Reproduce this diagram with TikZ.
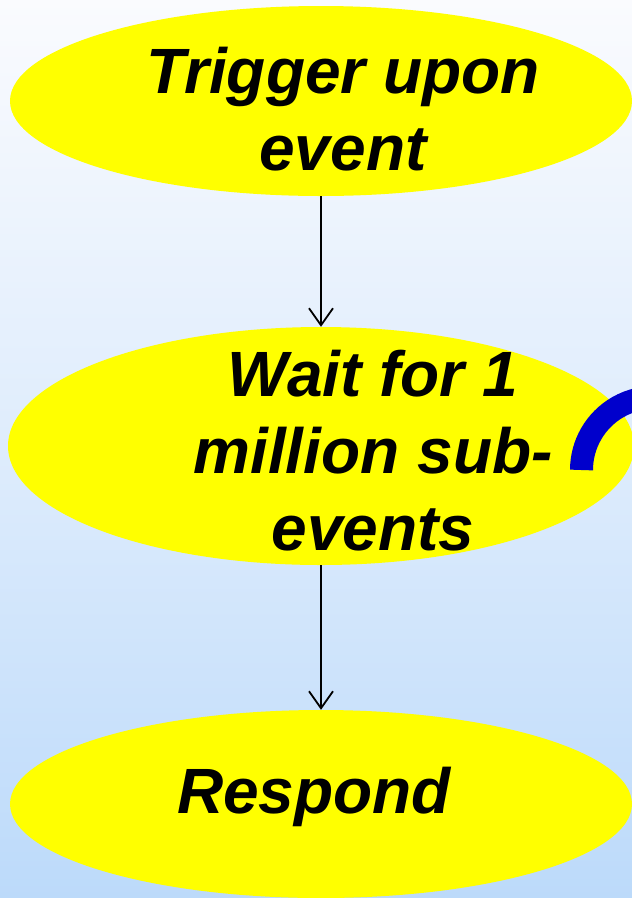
\documentclass[tikz,border=0pt]{standalone}
\usepackage{fontspec}
\setmainfont{Liberation Sans}
\usetikzlibrary{shapes.geometric,arrows.meta}
\definecolor{bgtop}{RGB}{250,251,254}
\definecolor{bgbot}{RGB}{188,218,250}
\definecolor{ovalyellow}{RGB}{255,255,0}
\definecolor{arcblue}{RGB}{0,0,204}
\tikzset{
  oval/.style={ellipse, fill=ovalyellow, draw=none, inner sep=0pt},
  label text/.style={align=center, inner sep=0pt, anchor=base,
    font=\fontsize{64}{77}\selectfont\bfseries\itshape},
  flow/.style={draw=black, line width=1.8pt, -{Straight Barb[length=17pt,width=24pt,line width=1.8pt]}},
}
\begin{document}
\begin{tikzpicture}[x=1pt,y=-1pt]
\useasboundingbox (0,0) rectangle (632,898);
\shade[top color=bgtop, bottom color=bgbot, middle color=bgtop!55!bgbot] (0,0) rectangle (632,898);
\begin{scope}
\clip (0,0) rectangle (632,898);
\node[oval, minimum width=622pt, minimum height=190pt] (e1) at (321,101) {};
\node[oval, minimum width=626pt, minimum height=238pt] (e2) at (321,446) {};
\node[oval, minimum width=622pt, minimum height=188pt] (e3) at (321,804) {};
\draw[arcblue, line width=23pt, line cap=butt] (581.5,470) arc[start angle=180, end angle=275, radius=72.5];
\end{scope}
\node[label text] (t1) at (343,170) {Trigger upon\\event};
\node[label text] (t2) at (373,550) {Wait for 1\\million sub-\\events};
\node[label text] (t3) at (314,813) {Respond};
\draw[flow] (e1.south) -- (e2.north);
\draw[flow] (e2.south) -- (e3.north);
\end{tikzpicture}
\end{document}
